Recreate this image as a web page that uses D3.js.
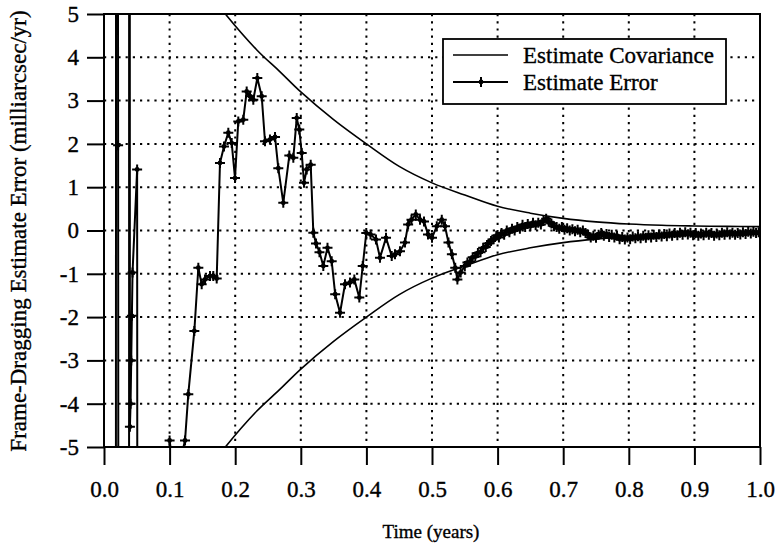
<!DOCTYPE html>
<html>
<head>
<meta charset="utf-8">
<script src="https://cdn.jsdelivr.net/npm/d3@7"></script>
<style>
body { margin: 0; background: #fff; }
svg text { font-family: "Liberation Serif", "DejaVu Serif", "Times New Roman", Times, serif !important; fill: #000; stroke: #000; stroke-width: 0.35px; }
</style>
</head>
<body>
<svg id="visframe" width="777" height="557"></svg>
<script>
// axis ticks
var xTicks = [0, 0.1, 0.2, 0.3, 0.4, 0.5, 0.6, 0.7, 0.8, 0.9, 1.0];
var yTicks = [5, 4, 3, 2, 1, 0, -1, -2, -3, -4, -5];

// estimate covariance (upper bound, drawn mirrored below zero)
var covTime  = [0.16, 0.185, 0.233, 0.268, 0.3, 0.35, 0.4, 0.45, 0.5, 0.55, 0.6, 0.65, 0.7, 0.75, 0.8, 0.85, 0.9, 0.95, 1.0];
var covValue = [5.5, 5.0, 4.17, 3.67, 3.2, 2.56, 2.0, 1.48, 1.1, 0.82, 0.56, 0.4, 0.28, 0.2, 0.15, 0.12, 0.105, 0.095, 0.09];

// estimate error (values beyond +/-5 run off the plot)
var errTime = [0.0175, 0.019, 0.0215, 0.024, 0.038, 0.0385, 0.0395, 0.0405, 0.0415, 0.0425, 0.0435, 0.0505, 0.0525,
  0.098, 0.1, 0.105, 0.115, 0.1235, 0.1285, 0.1377, 0.1438, 0.1489, 0.154, 0.1616, 0.1666, 0.1718,
  0.1768, 0.1829, 0.1895, 0.1947, 0.1997, 0.2047, 0.2123, 0.2175, 0.2226, 0.2276, 0.2337, 0.2404,
  0.2454, 0.253, 0.2607, 0.2657, 0.2733, 0.2825, 0.2886, 0.2938, 0.2977, 0.3014, 0.3049, 0.309, 0.3151,
  0.3191, 0.3232, 0.3285, 0.3343, 0.3407, 0.3471, 0.3524, 0.3598, 0.3674, 0.375, 0.3816, 0.3892,
  0.3944, 0.3998, 0.4063, 0.4146, 0.4207, 0.4299, 0.4386, 0.4436, 0.4512, 0.4588, 0.4636, 0.4687,
  0.4753, 0.4817, 0.4878, 0.4939, 0.5, 0.5073, 0.5149, 0.5198, 0.5251, 0.5303, 0.5354, 0.5387, 0.5437,
  0.550, 0.554, 0.558, 0.562, 0.566, 0.570, 0.574, 0.578, 0.582, 0.586, 0.590, 0.594, 0.598, 0.602,
  0.606, 0.610, 0.614, 0.618, 0.622, 0.626, 0.630, 0.634, 0.638, 0.642, 0.646, 0.650, 0.654, 0.658,
  0.662, 0.666, 0.670, 0.674, 0.678, 0.682, 0.686, 0.690, 0.694, 0.698, 0.702, 0.706, 0.710, 0.714,
  0.718, 0.722, 0.726, 0.730, 0.734, 0.738, 0.742, 0.746, 0.750, 0.754, 0.758, 0.762, 0.766, 0.770,
  0.774, 0.778, 0.782, 0.786, 0.790, 0.794, 0.798, 0.802, 0.806, 0.810, 0.814, 0.818, 0.822, 0.826,
  0.830, 0.834, 0.838, 0.842, 0.846, 0.850, 0.854, 0.858, 0.862, 0.866, 0.870, 0.874, 0.878, 0.882,
  0.886, 0.890, 0.894, 0.898, 0.902, 0.906, 0.910, 0.914, 0.918, 0.922, 0.926, 0.930, 0.934, 0.938,
  0.942, 0.946, 0.950, 0.954, 0.958, 0.962, 0.966, 0.970, 0.974, 0.978, 0.982, 0.986, 0.990, 0.994,
  0.998];
var errValue = [-60, 60, 1.97, -60, -60, 60, -4.53, -4.0, -3.0, -1.97, -0.97, 1.41, -60,
  -60, -4.85, -5.4, -5.4, -4.85, -3.78, -2.32, -0.86, -1.24, -1.13, -1.05, -1.05, -1.11,
  1.56, 1.94, 2.26, 2.02, 1.21, 2.52, 2.56, 3.21, 3.1, 3.02, 3.52, 3.1,
  2.06, 2.1, 2.16, 1.44, 0.64, 1.73, 1.68, 2.6, 2.33, 1.79, 1.1, 1.41, 1.52,
  -0.05, -0.3, -0.5, -0.82, -0.4, -0.71, -1.47, -1.9, -1.24, -1.2, -1.13, -1.55,
  -0.82, -0.06, -0.09, -0.21, -0.63, -0.17, -0.59, -0.55, -0.48, -0.28, 0.14, 0.25,
  0.37, 0.25, 0.21, -0.09, -0.17, 0.1, 0.25, 0.1, -0.28, -0.55, -0.86, -1.13, -0.97,
  -0.82, -0.74, -0.72, -0.62, -0.60, -0.52, -0.50, -0.40, -0.38, -0.30, -0.24, -0.20, -0.12, -0.16,
  -0.06, -0.10, 0.00, -0.04, 0.04, 0.00, 0.08, 0.04, 0.13, 0.08, 0.15, 0.10, 0.18, 0.12,
  0.18, 0.14, 0.22, 0.27, 0.20, 0.16, 0.10, 0.08, 0.04, 0.08, 0.02, 0.05, 0.00, 0.03,
  -0.02, 0.02, -0.04, 0.00, -0.06, -0.10, -0.16, -0.12, -0.17, -0.10, -0.06, -0.12, -0.08, -0.15,
  -0.10, -0.16, -0.12, -0.20, -0.15, -0.21, -0.16, -0.20, -0.14, -0.18, -0.13, -0.18, -0.12, -0.17,
  -0.11, -0.16, -0.10, -0.15, -0.09, -0.14, -0.08, -0.13, -0.07, -0.12, -0.06, -0.11, -0.05, -0.10,
  -0.04, -0.09, -0.05, -0.11, -0.06, -0.12, -0.07, -0.11, -0.05, -0.10, -0.06, -0.12, -0.07, -0.11,
  -0.05, -0.10, -0.04, -0.09, -0.05, -0.10, -0.06, -0.09, -0.04, -0.08, -0.03, -0.07, -0.03, -0.06,
  -0.04];

var legendLabels = ["Estimate Covariance", "Estimate Error"];

var plot = { left: 104, right: 760, top: 14, bottom: 447 };

function go(){
    var svg = d3.select("#visframe");

    var xScale = d3.scaleLinear().domain([0, 1]).range([plot.left, plot.right]);
    var yScale = d3.scaleLinear().domain([-5, 5]).range([plot.bottom, plot.top]);

    svg.append("defs").append("clipPath")
        .attr("id", "plotClip")
        .append("rect")
        .attr("x", plot.left)
        .attr("y", plot.top)
        .attr("width", plot.right - plot.left)
        .attr("height", plot.bottom - plot.top);

    //dotted grid
    var grid = svg.append("g")
        .style("stroke", "#000")
        .style("stroke-width", 2)
        .style("stroke-dasharray", "2.2,5");
    grid.selectAll(".vgrid")
        .data(xTicks.slice(1, -1))
        .enter().append("line")
        .attr("x1", d => xScale(d)).attr("x2", d => xScale(d))
        .attr("y1", plot.top).attr("y2", plot.bottom);
    grid.selectAll(".hgrid")
        .data(yTicks.slice(1, -1))
        .enter().append("line")
        .attr("x1", plot.left).attr("x2", plot.right)
        .attr("y1", d => yScale(d)).attr("y2", d => yScale(d));

    //axes: outward ticks
    var xAxis = svg.append("g")
        .attr("transform", "translate(0," + plot.bottom + ")")
        .call(d3.axisBottom(xScale).tickValues(xTicks).tickSize(18).tickFormat(d3.format(".1f")));
    xAxis.attr("font-family", null);
    xAxis.select(".domain").remove();
    xAxis.selectAll("line").style("stroke-width", 2);
    xAxis.selectAll("text")
        .attr("y", 34)
        .attr("dy", "0.71em")
        .style("font-size", "23px");

    var yAxis = svg.append("g")
        .attr("transform", "translate(" + plot.left + ",0)")
        .call(d3.axisLeft(yScale).tickValues(yTicks).tickSize(17).tickFormat(d => d < 0 ? "-" + Math.abs(d) : d));
    yAxis.attr("font-family", null);
    yAxis.select(".domain").remove();
    yAxis.selectAll("line").style("stroke-width", 2);
    yAxis.selectAll("text")
        .attr("x", -25)
        .style("font-size", "23px");

    var clipped = svg.append("g").attr("clip-path", "url(#plotClip)");

    //covariance envelope
    var covLine = d3.line()
        .x(d => xScale(d[0]))
        .y(d => yScale(d[1]))
        .curve(d3.curveCatmullRom);
    var upper = covTime.map((t, i) => [t, covValue[i]]);
    var lower = covTime.map((t, i) => [t, -covValue[i]]);
    clipped.selectAll(".cov")
        .data([upper, lower])
        .enter().append("path")
        .attr("d", covLine)
        .style("fill", "none")
        .style("stroke", "#000")
        .style("stroke-width", 1.6);

    //error trace
    var errData = errTime.map((t, i) => [t, errValue[i]]);
    var errLine = d3.line()
        .x(d => xScale(d[0]))
        .y(d => yScale(d[1]));
    clipped.append("path")
        .datum(errData)
        .attr("d", errLine)
        .style("fill", "none")
        .style("stroke", "#000")
        .style("stroke-width", 2)
        .style("stroke-linejoin", "round");

    var plusPath = "M-5,0H5M0,-5V5";
    var marks = clipped.selectAll(".mark")
        .data(errData.filter(d => Math.abs(d[1]) <= 5))
        .enter().append("g")
        .attr("transform", d => "translate(" + xScale(d[0]) + "," + yScale(d[1]) + ")");
    marks.append("path")
        .attr("d", plusPath)
        .style("stroke", "#000")
        .style("stroke-width", 2);
    marks.append("circle")
        .attr("r", 2.4)
        .style("fill", "#000");

    //frame
    svg.append("rect")
        .attr("x", plot.left).attr("y", plot.top)
        .attr("width", plot.right - plot.left)
        .attr("height", plot.bottom - plot.top)
        .style("fill", "none")
        .style("stroke", "#000")
        .style("stroke-width", 2);

    //legend
    var legend = svg.append("g").attr("transform", "translate(443,39)");
    legend.append("rect")
        .attr("width", 283).attr("height", 65)
        .style("fill", "#fff")
        .style("stroke", "#000")
        .style("stroke-width", 1.8);
    var rows = legend.selectAll(".legRow")
        .data(legendLabels)
        .enter().append("g")
        .attr("transform", (d, i) => "translate(0," + (16 + i * 27) + ")");
    rows.append("line")
        .attr("x1", 10).attr("x2", 65)
        .style("stroke", "#000")
        .style("stroke-width", (d, i) => i ? 1.8 : 1.6);
    rows.filter((d, i) => i == 1).append("path")
        .attr("transform", "translate(38,0)")
        .attr("d", plusPath)
        .style("stroke", "#000")
        .style("stroke-width", 2);
    rows.filter((d, i) => i == 1).append("circle")
        .attr("cx", 38).attr("r", 2.4);
    rows.append("text")
        .attr("x", 80)
        .attr("y", 8)
        .style("font-size", "23px")
        .text(d => d);

    //axis titles
    svg.append("text")
        .attr("x", 431).attr("y", 538)
        .attr("text-anchor", "middle")
        .style("font-size", "19px")
        .text("Time (years)");

    svg.append("text")
        .attr("transform", "translate(26,231) rotate(-90)")
        .attr("text-anchor", "middle")
        .style("font-size", "23px")
        .text("Frame-Dragging Estimate Error (milliarcsec/yr)");
}

go();
</script>
</body>
</html>
